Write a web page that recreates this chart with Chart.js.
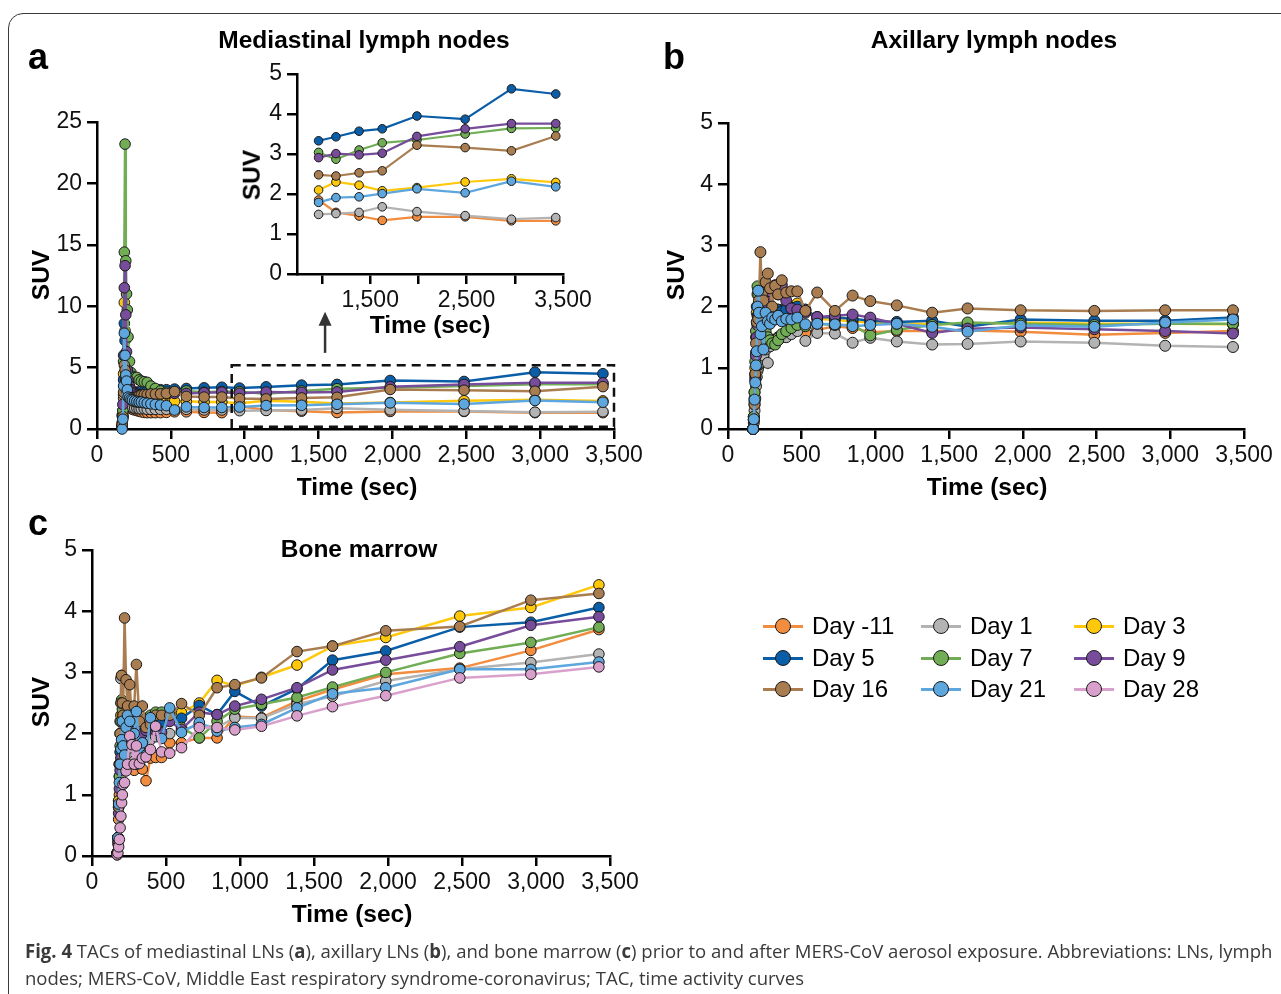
<!DOCTYPE html>
<html>
<head>
<meta charset="utf-8">
<title>TACs - MERS-CoV</title>
<script src="https://cdn.jsdelivr.net/npm/chart.js@4.4.1/dist/chart.umd.min.js"></script>
<style>
  html, body { margin: 0; padding: 0; background: #fff; }
  #page { position: relative; width: 1281px; height: 994px; overflow: hidden; font-family: 'Liberation Sans', Arial, sans-serif; color: #000; }
  canvas.layer { position: absolute; left: 0; top: 0; }
  .frame { position: absolute; left: 8px; top: 13px; width: 1300px; height: 1010px; border: 1.5px solid #3a3a3a; border-radius: 15px; }
  .txt { position: absolute; white-space: nowrap; line-height: 1; }
  .center { transform: translate(-50%, -50%); }
  .bold22 { font-weight: bold; font-size: 24.5px; }
  .ytitle { font-weight: bold; font-size: 24.5px; transform: translate(-50%, -50%) rotate(-90deg); }
  .letter { font-weight: bold; font-size: 36px; }
  .leg-item { position: absolute; height: 30px; width: 150px; font-size: 24px; line-height: 30px; white-space: nowrap; }
  .leg-line { position: absolute; left: 0; top: 13.5px; width: 40px; height: 3px; }
  .leg-dot { position: absolute; left: 12px; top: 7px; width: 16px; height: 16px; box-sizing: border-box; border: 1px solid #1a1a1a; border-radius: 50%; }
  .leg-text { position: absolute; left: 49px; top: 0; white-space: nowrap; }
  #caption { position: absolute; left: 25px; top: 938px; font-family: 'Open Sans', 'Liberation Sans', sans-serif; font-size: 19px; color: #3a3a3a; }
  .cap-line { white-space: nowrap; line-height: 27px; transform-origin: 0 50%; }
</style>
</head>
<body>
<div id="page">
  <div class="frame"></div>

  <canvas id="chartMed" class="layer" width="1281" height="994"></canvas>
  <canvas id="chartInset" class="layer" width="1281" height="994"></canvas>
  <canvas id="chartAx" class="layer" width="1281" height="994"></canvas>
  <canvas id="chartBm" class="layer" width="1281" height="994"></canvas>

  <div class="txt letter" style="left:28px; top:39px;">a</div>
  <div class="txt letter" style="left:663px; top:39px;">b</div>
  <div class="txt letter" style="left:28px; top:505px;">c</div>

  <div class="txt bold22 center" style="left:364px; top:40px;">Mediastinal lymph nodes</div>
  <div class="txt bold22 center" style="left:994px; top:40px;">Axillary lymph nodes</div>
  <div class="txt bold22 center" style="left:359px; top:549px;">Bone marrow</div>

  <div class="txt bold22 center" style="left:357px; top:487px;">Time (sec)</div>
  <div class="txt bold22 center" style="left:430px; top:325px;">Time (sec)</div>
  <div class="txt bold22 center" style="left:987px; top:487px;">Time (sec)</div>
  <div class="txt bold22 center" style="left:352px; top:914px;">Time (sec)</div>

  <div class="txt ytitle" style="left:41px; top:275px;">SUV</div>
  <div class="txt ytitle" style="left:252px; top:175px;">SUV</div>
  <div class="txt ytitle" style="left:676px; top:275px;">SUV</div>
  <div class="txt ytitle" style="left:41px; top:702px;">SUV</div>

  <div id="legend"></div>

  <div id="caption">
    <div class="cap-line" id="cap1"><b>Fig. 4</b> TACs of mediastinal LNs (<b>a</b>), axillary LNs (<b>b</b>), and bone marrow (<b>c</b>) prior to and after MERS-CoV aerosol exposure. Abbreviations: LNs, lymph</div>
    <div class="cap-line" id="cap2">nodes; MERS-CoV, Middle East respiratory syndrome-coronavirus; TAC, time activity curves</div>
  </div>
</div>

<script>
// ── Frame times (sec) shared by all curves ──────────────────────────────────
const TIME_S = [170, 175, 180, 185, 190, 195, 200, 205, 210, 220, 230, 240, 255, 270, 285, 300, 320,
                340, 365, 395, 430, 470, 525, 605, 725, 845, 965, 1145, 1385, 1625, 1985, 2485, 2965, 3425];

const DAY_LABELS = ['Day -11', 'Day 1', 'Day 3', 'Day 5', 'Day 7', 'Day 9', 'Day 16', 'Day 21', 'Day 28'];
const DAY_COLORS = ['#F28C3F', '#B3B3B3', '#FFC80A', '#0A5EA8', '#70AD55', '#774C9A', '#A97D50', '#5EA6DE', '#D9A0CC'];

// ── (a) Mediastinal lymph nodes ──────────────────────────────────────────────
const MED_M11 = [1.1, 1.5, 2.5, 4.0, 3.8, 3.2, 2.7, 2.3, 2.0, 1.8, 1.7, 1.6, 1.55, 1.5, 1.45, 1.4, 1.35, 1.33, 1.33, 1.33, 1.33, 1.35, 1.4, 1.4, 1.35, 1.33, 1.85, 1.54, 1.45, 1.34, 1.43, 1.43, 1.33, 1.33];
const MED_D1  = [0.2, 1.0, 2.8, 4.2, 4.0, 3.3, 2.8, 2.4, 2.1, 1.9, 1.8, 1.75, 1.7, 1.7, 1.65, 1.65, 1.65, 1.6, 1.6, 1.6, 1.6, 1.6, 1.6, 1.6, 1.55, 1.55, 1.49, 1.51, 1.54, 1.68, 1.56, 1.46, 1.37, 1.41];
const MED_D3  = [0.3, 1.2, 4.5, 10.3, 8.0, 5.5, 4.0, 3.2, 2.8, 2.5, 2.4, 2.3, 2.25, 2.2, 2.2, 2.2, 2.15, 2.15, 2.2, 2.2, 2.2, 2.2, 2.25, 2.25, 2.2, 2.2, 2.10, 2.30, 2.22, 2.08, 2.16, 2.30, 2.38, 2.29];
const MED_D5  = [0.2, 1.0, 4.0, 8.6, 7.2, 5.5, 4.5, 3.8, 3.4, 3.2, 3.1, 3.0, 3.0, 3.0, 3.0, 3.05, 3.05, 3.1, 3.1, 3.15, 3.2, 3.2, 3.25, 3.3, 3.35, 3.4, 3.33, 3.43, 3.57, 3.63, 3.95, 3.87, 4.63, 4.50];
const MED_D7  = [0.2, 1.5, 5.5, 14.4, 23.2, 13.7, 11.0, 9.7, 7.5, 5.5, 4.6, 4.3, 4.2, 4.2, 4.0, 3.9, 3.85, 3.8, 3.5, 3.3, 3.1, 3.0, 3.0, 3.1, 3.0, 3.05, 3.04, 2.87, 3.10, 3.28, 3.35, 3.50, 3.64, 3.65];
const MED_D9  = [0.5, 2.0, 6.0, 11.5, 13.3, 9.3, 6.3, 4.8, 4.0, 3.5, 3.2, 3.0, 2.9, 2.8, 2.8, 2.75, 2.75, 2.8, 2.8, 2.8, 2.85, 2.85, 2.9, 2.9, 2.95, 3.0, 2.91, 3.01, 2.98, 3.02, 3.44, 3.63, 3.76, 3.76];
const MED_D16 = [0.3, 1.0, 3.0, 5.2, 4.8, 4.0, 3.4, 3.0, 2.8, 2.6, 2.5, 2.5, 2.55, 2.6, 2.7, 2.75, 2.8, 2.8, 2.85, 2.85, 2.86, 2.9, 3.05, 2.65, 2.6, 2.6, 2.48, 2.45, 2.53, 2.58, 3.22, 3.16, 3.08, 3.45];
const MED_D21 = [0, 0.8, 3.5, 7.8, 6.0, 4.4, 3.9, 3.2, 2.6, 2.5, 2.4, 2.35, 2.3, 2.25, 2.2, 2.2, 2.15, 2.1, 2.05, 2.0, 1.95, 1.9, 1.55, 1.8, 1.75, 1.75, 1.79, 1.91, 1.93, 2.01, 2.13, 2.03, 2.32, 2.18];

// ── (b) Axillary lymph nodes ─────────────────────────────────────────────────
const AX_M11 = [0, 0.2, 0.5, 0.9, 1.2, 1.5, 1.7, 1.8, 1.75, 1.7, 1.65, 1.6, 1.55, 1.5, 1.45, 1.4, 1.45, 1.5, 1.5, 1.55, 1.6, 1.65, 1.57, 1.62, 1.68, 1.65, 1.58, 1.6, 1.6, 1.61, 1.59, 1.54, 1.57, 1.6];
const AX_D1  = [0, 0.1, 0.3, 0.5, 0.7, 0.85, 0.95, 1.0, 1.05, 1.08, 1.1, 1.2, 1.3, 1.08, 1.35, 1.4, 1.45, 1.48, 1.5, 1.5, 1.55, 1.6, 1.44, 1.57, 1.56, 1.41, 1.49, 1.43, 1.38, 1.39, 1.43, 1.41, 1.36, 1.34];
const AX_D3  = [0, 0.2, 0.6, 1.0, 1.5, 1.9, 2.2, 2.3, 2.25, 2.15, 2.1, 2.05, 2.0, 1.95, 1.9, 1.9, 1.92, 1.95, 1.95, 1.98, 2.0, 2.05, 1.95, 1.8, 1.78, 1.76, 1.74, 1.72, 1.72, 1.71, 1.74, 1.72, 1.72, 1.71];
const AX_D5  = [0, 0.15, 0.45, 0.85, 1.25, 1.6, 1.85, 2.0, 2.05, 2.0, 1.95, 1.9, 1.9, 1.85, 1.85, 1.88, 1.9, 1.95, 1.92, 1.95, 1.98, 2.0, 1.95, 1.83, 1.82, 1.8, 1.77, 1.75, 1.77, 1.67, 1.79, 1.77, 1.77, 1.82];
const AX_D7  = [0, 0.2, 0.6, 1.1, 1.6, 2.0, 2.33, 2.2, 2.0, 1.9, 1.8, 1.7, 1.6, 1.5, 1.45, 1.4, 1.38, 1.45, 1.55, 1.6, 1.65, 1.7, 1.68, 1.72, 1.7, 1.7, 1.53, 1.62, 1.70, 1.74, 1.72, 1.70, 1.72, 1.72];
const AX_D9  = [0, 0.15, 0.4, 0.8, 1.2, 1.5, 1.7, 1.85, 1.9, 2.0, 2.1, 2.2, 2.05, 2.15, 2.25, 2.3, 2.35, 2.2, 2.35, 2.1, 1.97, 1.95, 1.9, 1.83, 1.85, 1.87, 1.82, 1.72, 1.57, 1.64, 1.66, 1.63, 1.60, 1.56];
const AX_D16 = [0, 0.15, 0.4, 0.9, 1.4, 1.75, 2.0, 1.8, 2.1, 2.89, 2.2, 2.1, 2.4, 2.54, 2.3, 2.0, 2.34, 2.2, 2.43, 2.23, 2.25, 2.25, 1.93, 2.23, 1.93, 2.18, 2.09, 2.02, 1.90, 1.97, 1.94, 1.93, 1.94, 1.94];
const AX_D21 = [0, 0.16, 0.48, 0.76, 1.04, 1.27, 2.0, 2.26, 1.9, 1.55, 1.68, 1.3, 1.9, 1.76, 1.72, 1.82, 1.79, 1.85, 1.76, 1.8, 1.79, 1.82, 1.71, 1.72, 1.71, 1.68, 1.70, 1.72, 1.67, 1.59, 1.69, 1.67, 1.74, 1.79];

// ── (c) Bone marrow ──────────────────────────────────────────────────────────
const BM_M11 = [0.05, 0.2, 0.6, 1.0, 1.3, 1.5, 1.6, 1.65, 1.7, 1.75, 1.8, 1.6, 1.5, 1.45, 1.4, 1.5, 1.55, 1.42, 1.23, 1.6, 1.61, 1.61, 1.85, 1.85, 1.93, 1.93, 2.28, 2.26, 2.53, 2.72, 2.97, 3.07, 3.36, 3.70];
const BM_D1  = [0.05, 0.3, 0.9, 1.5, 2.2, 2.9, 2.95, 2.5, 2.2, 2.0, 1.9, 1.8, 1.7, 1.6, 1.55, 1.5, 1.6, 1.7, 1.8, 1.9, 1.95, 2.0, 2.0, 2.05, 2.15, 2.1, 2.26, 2.25, 2.48, 2.61, 2.86, 3.05, 3.16, 3.30];
const BM_D3  = [0.05, 0.3, 0.9, 1.5, 2.0, 2.3, 2.5, 2.3, 2.2, 2.1, 2.05, 2.0, 2.0, 2.05, 2.1, 2.1, 2.15, 2.2, 2.2, 2.25, 2.25, 2.3, 2.35, 2.34, 2.5, 2.87, 2.78, 2.92, 3.12, 3.43, 3.57, 3.92, 4.06, 4.43];
const BM_D5  = [0.05, 0.3, 0.8, 1.3, 1.7, 2.0, 2.2, 2.0, 1.9, 1.85, 1.8, 1.85, 1.9, 1.95, 2.0, 2.0, 2.05, 2.1, 2.1, 2.15, 2.2, 2.2, 2.25, 2.25, 2.46, 2.31, 2.69, 2.45, 2.73, 3.20, 3.35, 3.74, 3.82, 4.06];
const BM_D7  = [0.05, 0.3, 0.8, 1.3, 1.8, 2.2, 2.55, 2.4, 2.2, 2.1, 2.0, 1.95, 1.9, 1.9, 1.95, 2.0, 2.1, 2.2, 2.25, 2.3, 2.35, 2.35, 2.3, 2.1, 1.93, 2.2, 2.4, 2.48, 2.59, 2.76, 3.0, 3.31, 3.49, 3.74];
const BM_D9  = [0.05, 0.25, 0.7, 1.1, 1.4, 1.6, 1.75, 1.8, 1.85, 1.9, 1.95, 2.0, 2.05, 2.0, 2.0, 2.05, 2.05, 2.0, 2.05, 2.1, 2.05, 2.02, 2.2, 2.07, 2.35, 2.31, 2.45, 2.56, 2.75, 3.04, 3.20, 3.42, 3.77, 3.91];
const BM_D16 = [0.05, 0.3, 0.8, 1.5, 2.0, 2.5, 2.95, 2.5, 2.3, 3.89, 2.88, 2.45, 2.8, 2.2, 2.45, 3.13, 2.2, 2.45, 2.1, 2.15, 2.3, 2.3, 2.3, 2.49, 2.3, 2.75, 2.8, 2.91, 3.34, 3.43, 3.68, 3.75, 4.18, 4.29];
const BM_D21 = [0.02, 0.3, 0.85, 1.2, 1.5, 1.75, 1.9, 2.2, 1.8, 1.65, 2.1, 2.3, 2.2, 1.85, 2.0, 2.36, 1.75, 1.85, 1.65, 2.26, 2.1, 1.92, 2.42, 2.02, 2.18, 2.04, 2.1, 2.15, 2.42, 2.65, 2.75, 3.05, 3.05, 3.17];
const BM_D28 = [0.02, 0.05, 0.15, 0.27, 0.46, 0.65, 0.87, 1.0, 1.17, 1.2, 1.39, 1.5, 1.96, 1.82, 1.5, 1.8, 1.51, 1.6, 1.62, 1.74, 2.12, 1.70, 1.68, 1.77, 2.1, 2.1, 2.06, 2.12, 2.29, 2.44, 2.62, 2.91, 2.97, 3.09];

const MED_SERIES = [MED_M11, MED_D1, MED_D3, MED_D5, MED_D7, MED_D9, MED_D16, MED_D21];
const AX_SERIES  = [AX_M11, AX_D1, AX_D3, AX_D5, AX_D7, AX_D9, AX_D16, AX_D21];
const BM_SERIES  = [BM_M11, BM_D1, BM_D3, BM_D5, BM_D7, BM_D9, BM_D16, BM_D21, BM_D28];

// inset of (a) shows the late frames only
const INSET_START = TIME_S.indexOf(965);
const INSET_XTICKS = [1000, 1500, 2000, 2500, 3000, 3500];
const INSET_XLABELS = [1500, 2500, 3500];

// zoom box + arrow in (a), data coords
const ZOOM_BOX_T = [912, 3500];
const ZOOM_BOX_SUV = [0.18, 5.2];
const ARROW_T = 1544;
const ARROW_SUV = [6.2, 9.55];

const PAGE_W = 1281, PAGE_H = 994;
const Y_W = 70, X_H = 45;

Chart.defaults.font.family = "'Liberation Sans', Arial, sans-serif";
Chart.defaults.color = '#111';

const fmtThousands = v => Number(v).toLocaleString('en-US');

function axisCommon() {
    return {
        grid: { display: true, drawOnChartArea: false, drawTicks: true, tickLength: 10, lineWidth: 2.5, color: '#000' },
        border: { display: true, width: 2.5, color: '#000' }
    };
}

function buildChart(canvasId, cfg) {
    const a = cfg.area;
    const n = cfg.series.length;
    return new Chart(document.getElementById(canvasId), {
        type: 'line',
        data: {
            datasets: cfg.series.map((vals, i) => ({
                label: DAY_LABELS[i],
                data: cfg.times.map((t, k) => ({ x: t, y: vals[k] })),
                borderColor: DAY_COLORS[i],
                backgroundColor: DAY_COLORS[i],
                pointBackgroundColor: DAY_COLORS[i],
                pointBorderColor: '#1a1a1a',
                pointBorderWidth: 1,
                pointRadius: cfg.pointRadius,
                borderWidth: cfg.lineWidth,
                tension: 0,
                clip: false,
                order: n - i
            }))
        },
        options: {
            responsive: false,
            animation: false,
            events: [],
            layout: {
                padding: { left: a.left - Y_W, top: a.top, right: PAGE_W - a.right, bottom: PAGE_H - a.bottom - X_H }
            },
            plugins: { legend: { display: false }, tooltip: { enabled: false } },
            scales: {
                x: {
                    type: 'linear',
                    min: cfg.x.min, max: cfg.x.max,
                    ...axisCommon(),
                    ticks: {
                        stepSize: cfg.x.step, padding: 3, maxRotation: 0, autoSkip: false,
                        font: { size: 23 }, color: '#111',
                        callback: cfg.x.label || fmtThousands
                    },
                    afterBuildTicks: cfg.x.ticks ? (s => { s.ticks = cfg.x.ticks.map(v => ({ value: v })); }) : undefined,
                    afterFit: s => { s.height = X_H; s.paddingLeft = 0; s.paddingRight = 0; }
                },
                y: {
                    type: 'linear',
                    min: cfg.y.min, max: cfg.y.max,
                    ...axisCommon(),
                    ticks: { stepSize: cfg.y.step, padding: 5, font: { size: 23 }, color: '#111' },
                    afterFit: s => { s.width = Y_W; s.paddingTop = 0; s.paddingBottom = 0; }
                }
            }
        },
        plugins: cfg.plugins || []
    });
}

// dashed zoom box and arrow pointing to the inset
const zoomBoxPlugin = {
    id: 'zoomBox',
    afterDatasetsDraw(chart) {
        const { ctx, scales: { x, y } } = chart;
        const l = x.getPixelForValue(ZOOM_BOX_T[0]), r = x.getPixelForValue(ZOOM_BOX_T[1]);
        const b = y.getPixelForValue(ZOOM_BOX_SUV[0]), t = y.getPixelForValue(ZOOM_BOX_SUV[1]);
        ctx.save();
        ctx.strokeStyle = '#111';
        ctx.lineWidth = 2.5;
        ctx.setLineDash([9, 6]);
        ctx.strokeRect(l, t, r - l, b - t);
        ctx.setLineDash([]);
        const ax = x.getPixelForValue(ARROW_T);
        const a0 = y.getPixelForValue(ARROW_SUV[0]), a1 = y.getPixelForValue(ARROW_SUV[1]);
        ctx.strokeStyle = '#333';
        ctx.fillStyle = '#333';
        ctx.beginPath();
        ctx.moveTo(ax, a0);
        ctx.lineTo(ax, a1 + 10);
        ctx.stroke();
        ctx.beginPath();
        ctx.moveTo(ax, a1);
        ctx.lineTo(ax - 6.5, a1 + 14);
        ctx.lineTo(ax + 6.5, a1 + 14);
        ctx.closePath();
        ctx.fill();
        ctx.restore();
    }
};

buildChart('chartMed', {
    area: { left: 97, top: 122, right: 614, bottom: 429 },
    times: TIME_S, series: MED_SERIES,
    x: { min: 0, max: 3500, step: 500 },
    y: { min: 0, max: 25, step: 5 },
    pointRadius: 5.3, lineWidth: 2.5,
    plugins: [zoomBoxPlugin]
});

buildChart('chartInset', {
    area: { left: 297, top: 74, right: 563, bottom: 274 },
    times: TIME_S.slice(INSET_START),
    series: MED_SERIES.map(s => s.slice(INSET_START)),
    x: { min: 741, max: 3500, step: 500, ticks: INSET_XTICKS,
         label: v => INSET_XLABELS.includes(v) ? fmtThousands(v) : '' },
    y: { min: 0, max: 5, step: 1 },
    pointRadius: 4.3, lineWidth: 2.2
});

buildChart('chartAx', {
    area: { left: 728, top: 123, right: 1244, bottom: 429 },
    times: TIME_S, series: AX_SERIES,
    x: { min: 0, max: 3500, step: 500 },
    y: { min: 0, max: 5, step: 1 },
    pointRadius: 5.5, lineWidth: 2.5
});

buildChart('chartBm', {
    area: { left: 92, top: 550, right: 610, bottom: 856 },
    times: TIME_S, series: BM_SERIES,
    x: { min: 0, max: 3500, step: 500 },
    y: { min: 0, max: 5, step: 1 },
    pointRadius: 5.3, lineWidth: 2.5
});

// ── Legend (3 x 3, row-major) ────────────────────────────────────────────────
const LEGEND_COL_X = [763, 921, 1074];
const LEGEND_ROW_Y = [626, 658, 689];
const legendEl = document.getElementById('legend');
DAY_LABELS.forEach((label, i) => {
    const item = document.createElement('div');
    item.className = 'leg-item';
    item.style.left = LEGEND_COL_X[i % 3] + 'px';
    item.style.top = (LEGEND_ROW_Y[Math.floor(i / 3)] - 15) + 'px';
    item.innerHTML =
        '<span class="leg-line" style="background:' + DAY_COLORS[i] + '"></span>' +
        '<span class="leg-dot" style="background:' + DAY_COLORS[i] + '"></span>' +
        '<span class="leg-text">' + label + '</span>';
    legendEl.appendChild(item);
});

// ── Caption: squeeze the first line to the figure width ─────────────────────
function fitCaption() {
    const l1 = document.getElementById('cap1');
    const l2 = document.getElementById('cap2');
    const k = 1247 / l1.scrollWidth;
    l1.style.transform = 'scaleX(' + k + ')';
    l2.style.transform = 'scaleX(' + k + ')';
}
if (document.fonts && document.fonts.ready) document.fonts.ready.then(fitCaption); else fitCaption();
</script>
</body>
</html>
